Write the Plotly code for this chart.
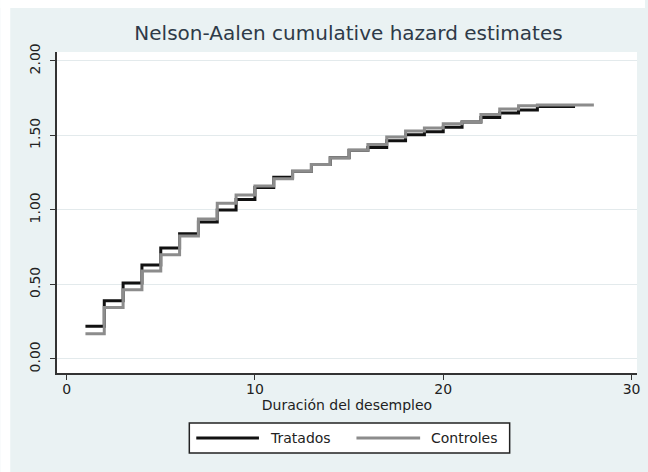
import plotly.graph_objects as go

# Nelson-Aalen cumulative hazard, evaluated at each duration (step holds until the next time)
times_tratados = list(range(1, 28))
hazard_tratados = [0.22, 0.39, 0.51, 0.63, 0.745, 0.84, 0.92, 1.00, 1.07, 1.15,
                   1.22, 1.26, 1.305, 1.35, 1.40, 1.42, 1.465, 1.505, 1.525, 1.555,
                   1.59, 1.62, 1.65, 1.67, 1.695, 1.695, 1.695]

times_controles = list(range(1, 29))
hazard_controles = [0.17, 0.345, 0.465, 0.59, 0.70, 0.825, 0.94, 1.045, 1.10, 1.16,
                    1.21, 1.26, 1.305, 1.35, 1.40, 1.44, 1.49, 1.53, 1.55, 1.578,
                    1.59, 1.64, 1.678, 1.70, 1.705, 1.705, 1.705, 1.705]

series_names = ["Tratados", "Controles"]
series_colors = ["#111111", "#8c8c8c"]

x_tick_values = [0, 10, 20, 30]
y_tick_values = [0, 0.5, 1.0, 1.5, 2.0]
y_tick_labels = ["0.00", "0.50", "1.00", "1.50", "2.00"]

W, H = 648, 472
ML, MR, MT, MB = 57, 8, 52, 99
PW, PH = W - ML - MR, H - MT - MB

FONT = "DejaVu Sans"
BG = "#EAF2F3"


def px_x(p):
    return (p - ML) / PW


def px_y(p):
    return (H - MB - p) / PH


fig = go.Figure()

for name, color, xs, ys in [
    (series_names[0], series_colors[0], times_tratados, hazard_tratados),
    (series_names[1], series_colors[1], times_controles, hazard_controles),
]:
    fig.add_trace(go.Scatter(
        x=xs, y=ys, mode="lines", name=name,
        line=dict(color=color, width=3, shape="hv"),
        showlegend=False,
    ))

shapes = [
    # white outer border of the image
    dict(type="rect", xref="paper", yref="paper", layer="below",
         x0=px_x(0), x1=px_x(10), y0=px_y(H), y1=px_y(0),
         fillcolor="white", line=dict(width=0)),
    dict(type="rect", xref="paper", yref="paper", layer="below",
         x0=px_x(0), x1=px_x(W), y0=px_y(8), y1=px_y(0),
         fillcolor="white", line=dict(width=0)),
    # legend box
    dict(type="rect", xref="paper", yref="paper",
         x0=px_x(190), x1=px_x(512), y0=px_y(453), y1=px_y(423),
         fillcolor="white", line=dict(color="#222222", width=1.5)),
    dict(type="line", xref="paper", yref="paper",
         x0=px_x(197), x1=px_x(260), y0=px_y(438), y1=px_y(438),
         line=dict(color=series_colors[0], width=3)),
    dict(type="line", xref="paper", yref="paper",
         x0=px_x(358), x1=px_x(422), y0=px_y(438), y1=px_y(438),
         line=dict(color=series_colors[1], width=3)),
]

annotations = [
    dict(text=series_names[0], xref="paper", yref="paper",
         x=px_x(269), y=px_y(438), xanchor="left", yanchor="middle",
         showarrow=False, font=dict(family=FONT, size=14, color="#222222")),
    dict(text=series_names[1], xref="paper", yref="paper",
         x=px_x(431), y=px_y(438), xanchor="left", yanchor="middle",
         showarrow=False, font=dict(family=FONT, size=14, color="#222222")),
]

fig.update_layout(
    width=W, height=H,
    margin=dict(l=ML, r=MR, t=MT, b=MB, pad=0),
    paper_bgcolor=BG,
    plot_bgcolor="white",
    font=dict(family=FONT, size=14, color="#222222"),
    title=dict(text="Nelson-Aalen cumulative hazard estimates",
               x=(ML + PW / 2) / W, xanchor="center",
               y=1 - 33 / H, yanchor="middle",
               font=dict(family=FONT, size=20, color="#2e3a48")),
    shapes=shapes,
    annotations=annotations,
    xaxis=dict(
        range=[-0.51, 30.29],
        tickvals=x_tick_values,
        ticks="outside", ticklen=5, tickwidth=1.2, tickcolor="#333333",
        showline=True, linecolor="#333333", linewidth=1.5,
        showgrid=False, zeroline=False,
        ticklabelstandoff=-3,
        tickfont=dict(family=FONT, size=14, color="#222222"),
        title=dict(text="Duración del desempleo", standoff=2,
                   font=dict(family=FONT, size=14, color="#222222")),
    ),
    yaxis=dict(
        range=[-0.094, 2.06],
        tickvals=y_tick_values,
        ticktext=y_tick_labels,
        tickangle=-90,
        ticks="outside", ticklen=5, tickwidth=1.2, tickcolor="#333333",
        showline=True, linecolor="#333333", linewidth=1.5,
        showgrid=True, gridcolor="#E3EAEC", gridwidth=1,
        zeroline=False,
        ticklabelstandoff=5,
        tickfont=dict(family=FONT, size=14, color="#222222"),
    ),
)

fig.write_html("out.html")
